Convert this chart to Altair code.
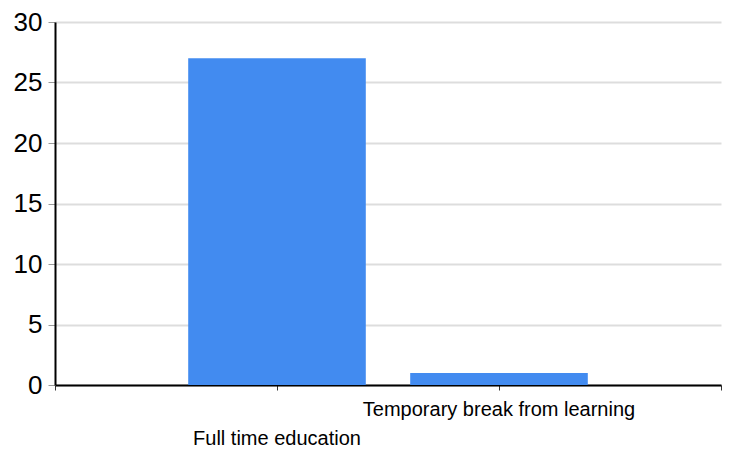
import altair as alt
import pandas as pd

categories = ["Full time education", "Temporary break from learning"]
positions = [1, 2]
values = [27, 1]
label_rows = [1, 0]

df = pd.DataFrame({"cat": categories, "pos": positions, "val": values, "row": label_rows})

xscale = alt.Scale(domain=[0, 3], nice=False, zero=False)
yscale = alt.Scale(domain=[0, 30], nice=False)

base = alt.Chart(df)

bars = base.transform_calculate(
    x0="datum.pos - 0.4", x1="datum.pos + 0.4"
).mark_bar(color="#428BF0").encode(
    x=alt.X("x0:Q", scale=xscale, title=None,
            axis=alt.Axis(values=[0, 1, 2, 3], labels=False, grid=False,
                          domainColor="#000000", domainWidth=2,
                          tickColor="#333333", tickSize=5, tickWidth=1)),
    x2="x1:Q",
    y=alt.Y("val:Q", scale=yscale, title=None,
            axis=alt.Axis(values=[0, 5, 10, 15, 20, 25, 30], grid=True,
                          gridColor="#dddddd", gridWidth=2,
                          domainColor="#000000", domainWidth=2,
                          tickColor="#999999", tickSize=7, tickWidth=1,
                          labelFontSize=26, labelColor="#000000",
                          labelFont="Liberation Sans", labelPadding=6)),
    y2=alt.datum(0),
)

lab_low = base.transform_filter("datum.row == 1").mark_text(
    font="Liberation Sans", fontSize=20, color="#000000", baseline="middle"
).encode(x=alt.X("pos:Q", scale=xscale), y=alt.value(417), text="cat:N")

lab_high = base.transform_filter("datum.row == 0").mark_text(
    font="Liberation Sans", fontSize=20, color="#000000", baseline="middle"
).encode(x=alt.X("pos:Q", scale=xscale), y=alt.value(388), text="cat:N")

chart = alt.layer(bars, lab_low, lab_high).properties(
    width=666, height=363,
    autosize=alt.AutoSizeParams(type="none"),
    padding={"left": 47, "top": 14, "right": 2, "bottom": 64},
).configure_view(stroke=None)

chart.save("out.html", embed_options={"renderer": "svg", "actions": False})
